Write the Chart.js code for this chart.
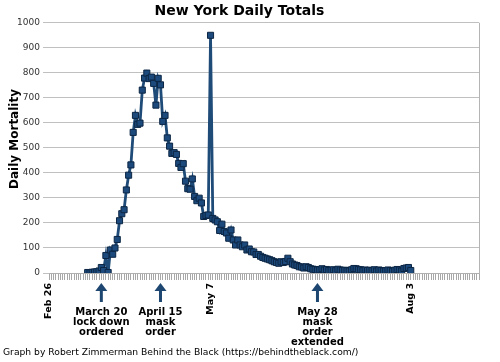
<!DOCTYPE html>
<html>
<head>
<meta charset="utf-8">
<script src="https://cdn.jsdelivr.net/npm/chart.js@4.4.0/dist/chart.umd.min.js"></script>
<style>
  html, body { margin: 0; padding: 0; background: #ffffff; }
  #wrap { width: 500px; height: 362px; position: relative; }
</style>
</head>
<body>
<div id="wrap"><canvas id="c" width="500" height="362"></canvas></div>
<script>
// ---- DATA ----
const startDate = "2020-02-26";      // first category on the axis
const dayCount = 190;                // number of daily categories on the axis
const firstDataDay = "Mar 14";       // first day with a reported value
// Daily mortality, Mar 14 .. Aug 3
const dailyDeaths = [
  2, 1, 3, 4, 5, 8, 22, 10, 70, 2,
  92, 75, 100, 134, 209, 237, 253, 332, 391, 432,
  562, 630, 594, 599, 731, 779, 799, 777, 783, 758,
  671, 778, 752, 606, 630, 540, 507, 478, 481, 474,
  438, 422, 437, 367, 337, 335, 376, 306, 289, 299,
  280, 226, 230, 232, 950, 218, 212, 205, 170, 195,
  166, 160, 139, 172, 132, 112, 132, 112, 105, 112,
  92, 96, 85, 84, 74, 74, 67, 62, 59, 56,
  53, 49, 45, 42, 39, 45, 42, 46, 59, 45,
  36, 32, 30, 25, 24, 20, 25, 22, 17, 15,
  14, 12, 13, 17, 12, 14, 10, 11, 13, 9,
  15, 12, 10, 11, 9, 8, 13, 18, 17, 14,
  13, 9, 12, 10, 11, 9, 13, 8, 12, 10,
  8, 9, 12, 10, 7, 11, 14, 12, 8, 18,
  20, 22, 10
];
const shownDateLabels = ["Feb 26", "May 7", "Aug 3"];
const yTicks = { min: 0, max: 1000, step: 100 };
const chartTitle = "New York Daily Totals";
const yTitle = "Daily Mortality";
const footer = "Graph by Robert Zimmerman Behind the Black (https://behindtheblack.com/)";
const annotationAnchors = ["Mar 20", "Apr 15", "Jun 23"];
const annotationTexts = [
  ["March 20", "lock down", "ordered"],
  ["April 15", "mask", "order"],
  ["May 28", "mask", "order", "extended"]
];

// ---- build categories ----
const months = ["Jan","Feb","Mar","Apr","May","Jun","Jul","Aug","Sep","Oct","Nov","Dec"];
const categories = [];
{
  const d0 = new Date(startDate + "T12:00:00Z");
  for (let i = 0; i < dayCount; i++) {
    const d = new Date(d0.getTime() + i * 86400000);
    categories.push(months[d.getUTCMonth()] + " " + d.getUTCDate());
  }
}
const series = categories.map(() => null);
const off = categories.indexOf(firstDataDay);
dailyDeaths.forEach((v, i) => { series[off + i] = v; });

const FONT = "DejaVu Sans";

const extras = {
  id: "extras",
  afterDraw(chart) {
    const ctx = chart.ctx;
    const xs = chart.scales.x;
    const ca = chart.chartArea;
    ctx.save();
    // right wall border
    ctx.strokeStyle = "#b4b4b4";
    ctx.lineWidth = 1;
    ctx.beginPath();
    ctx.moveTo(Math.round(ca.right) + 0.5, ca.top);
    ctx.lineTo(Math.round(ca.right) + 0.5, ca.bottom);
    ctx.stroke();

    // y axis title
    ctx.fillStyle = "#000";
    ctx.font = "bold 12px '" + FONT + "'";
    ctx.textAlign = "center";
    ctx.textBaseline = "middle";
    ctx.save();
    ctx.translate(15, 139);
    ctx.rotate(-Math.PI / 2);
    ctx.fillText(yTitle, 0, 0);
    ctx.restore();

    // annotations
    annotationAnchors.forEach((a, k) => {
      const x = xs.getPixelForValue(categories.indexOf(a));
      const top = ca.bottom + 10;
      ctx.fillStyle = "#1d4670";
      ctx.beginPath();
      ctx.moveTo(x, top);
      ctx.lineTo(x - 6, top + 8);
      ctx.lineTo(x + 6, top + 8);
      ctx.closePath();
      ctx.fill();
      ctx.fillRect(x - 1.5, top + 7, 3, 12);
      ctx.fillStyle = "#000";
      ctx.font = "bold 10px '" + FONT + "'";
      ctx.textAlign = "center";
      ctx.textBaseline = "middle";
      annotationTexts[k].forEach((t, j) => {
        ctx.fillText(t, x, ca.bottom + 39 + j * 10);
      });
    });

    // footer
    ctx.fillStyle = "#000";
    ctx.font = "9.2px '" + FONT + "'";
    ctx.textAlign = "left";
    ctx.textBaseline = "middle";
    ctx.fillText(footer, 3, 353);
    ctx.restore();
  }
};

new Chart(document.getElementById("c"), {
  type: "line",
  data: {
    labels: categories,
    datasets: [{
      label: "Daily Mortality",
      data: series,
      borderColor: "#1f4b78",
      borderWidth: 2.8,
      tension: 0,
      spanGaps: false,
      pointStyle: "rect",
      pointRadius: 4.3,
      pointBackgroundColor: "#1c4a7c",
      pointBorderColor: "#0c2644",
      pointBorderWidth: 1
    }]
  },
  options: {
    responsive: false,
    devicePixelRatio: 1,
    animation: false,
    layout: { padding: { left: 0, right: 21, top: 0, bottom: 0 } },
    plugins: {
      legend: { display: false },
      tooltip: { enabled: false },
      title: {
        display: true,
        text: chartTitle,
        color: "#000",
        font: { family: FONT, size: 14, weight: "bold" },
        padding: { top: 3, bottom: 3 }
      }
    },
    scales: {
      x: {
        type: "category",
        offset: false,
        grid: {
          display: true,
          drawOnChartArea: false,
          drawTicks: true,
          tickLength: 7,
          color: "#a8a8a8",
          tickColor: "#a8a8a8",
          tickWidth: 1
        },
        border: { display: true, color: "#b0b0b0" },
        ticks: {
          autoSkip: false,
          maxRotation: 90,
          minRotation: 90,
          padding: 3,
          color: "#000",
          font: { family: FONT, size: 9.5, weight: "bold" },
          callback: function (v, i) {
            const l = categories[i];
            return shownDateLabels.includes(l) ? l : "";
          }
        },
        afterFit: function (s) { s.height = 89; }
      },
      y: {
        min: yTicks.min,
        max: yTicks.max,
        grid: { color: "#c0c0c0", tickLength: 6, lineWidth: 1 },
        border: { display: false },
        ticks: {
          stepSize: yTicks.step,
          padding: 3,
          color: "#333",
          font: { family: FONT, size: 9 },
          callback: function (v) { return String(v); }
        },
        afterFit: function (s) { s.width = 49; }
      }
    }
  },
  plugins: [extras]
});
</script>
</body>
</html>
